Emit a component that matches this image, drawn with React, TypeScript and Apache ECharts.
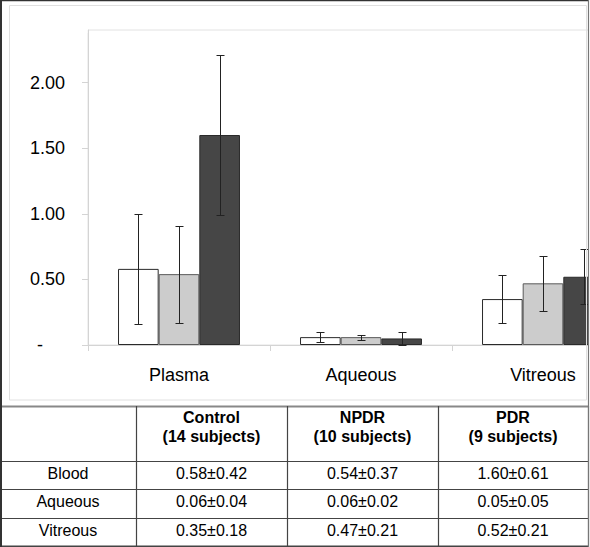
import React, { useEffect, useRef } from "react";
import * as echarts from "echarts";

const categories = ["Plasma", "Aqueous", "Vitreous"];
const groups = ["Control", "NPDR", "PDR"];
const subjects = [14, 10, 9];
const tableRows = ["Blood", "Aqueous", "Vitreous"];
const controlMean = [0.58, 0.06, 0.35];
const controlSd = [0.42, 0.04, 0.18];
const npdrMean = [0.54, 0.06, 0.47];
const npdrSd = [0.37, 0.02, 0.21];
const pdrMean = [1.6, 0.05, 0.52];
const pdrSd = [0.61, 0.05, 0.21];

const means = [controlMean, npdrMean, pdrMean];
const sds = [controlSd, npdrSd, pdrSd];

const FONT = "'Liberation Sans', Arial, sans-serif";
const barColors = ["#ffffff", "#cccccc", "#464646"];
const barBorders = ["#2a2a2a", "#5a5a5a", "#2a2a2a"];
const CAT_GAP = 0.33;

export default function App() {
  const ref = useRef<HTMLDivElement>(null);
  useEffect(() => {
    document.body.style.margin = "0";
    const chart = echarts.init(ref.current!, null, { renderer: "svg" });

    const barSeries = groups.map((g, gi) => ({
      name: g,
      type: "bar",
      data: means[gi],
      barGap: "0%",
      barCategoryGap: (CAT_GAP * 100).toFixed(0) + "%",
      itemStyle: { color: barColors[gi], borderColor: barBorders[gi], borderWidth: 1 },
      z: 2,
    }));

    const errData: number[][] = [];
    groups.forEach((_, gi) => {
      categories.forEach((_, ci) => {
        errData.push([ci, means[gi][ci] - sds[gi][ci], means[gi][ci] + sds[gi][ci], gi]);
      });
    });

    const errSeries = {
      type: "custom",
      data: errData,
      encode: { x: 0, y: [1, 2] },
      z: 5,
      renderItem: (params: any, api: any) => {
        const ci = api.value(0);
        const lo = api.value(1);
        const hi = api.value(2);
        const si = api.value(3);
        const bandW = api.size([1, 0])[0];
        const barW = (bandW * (1 - CAT_GAP)) / 3;
        const cx = Math.round(api.coord([ci, 0])[0] + (si - 1) * barW) + 0.5;
        const yLo = Math.round(api.coord([ci, lo])[1]) + 0.5;
        const yHi = Math.round(api.coord([ci, hi])[1]) + 0.5;
        const style = { stroke: "#222222", lineWidth: 1 };
        return {
          type: "group",
          children: [
            { type: "line", shape: { x1: cx, y1: yLo, x2: cx, y2: yHi }, style },
            { type: "line", shape: { x1: cx - 4, y1: yHi, x2: cx + 4, y2: yHi }, style },
            { type: "line", shape: { x1: cx - 4, y1: yLo, x2: cx + 4, y2: yLo }, style },
          ],
        };
      },
    };

    const colX = [0, 136, 287, 438, 588];
    const rowY = [406, 461, 489, 518, 546];
    const lineColor = "#444444";
    const tableEls: any[] = [];
    rowY.forEach((y, i) => {
      tableEls.push({
        type: "line",
        z: 100,
        shape: { x1: 0, y1: y + 0.5, x2: 589, y2: y + 0.5 },
        style: { stroke: i === 0 ? "#888888" : lineColor, lineWidth: i === 0 || i === rowY.length - 1 ? 2 : 1.2 },
      });
    });
    colX.forEach((x, i) => {
      tableEls.push({
        type: "line",
        z: 100,
        shape: { x1: x + (i === 0 ? 1 : 0.5), y1: rowY[0], x2: x + (i === 0 ? 1 : 0.5), y2: rowY[rowY.length - 1] + 1 },
        style: { stroke: i === colX.length - 1 ? "#777777" : lineColor, lineWidth: i === 0 ? 2 : 1.2 },
      });
    });
    groups.forEach((g, gi) => {
      const cx = (colX[gi + 1] + colX[gi + 2]) / 2;
      tableEls.push({
        type: "text",
        z: 100,
        x: cx,
        y: 417,
        style: { text: g, fill: "#000", font: `bold 16px ${FONT}`, align: "center", verticalAlign: "middle" },
      });
      tableEls.push({
        type: "text",
        z: 100,
        x: cx,
        y: 436,
        style: { text: `(${subjects[gi]} subjects)`, fill: "#000", font: `bold 16px ${FONT}`, align: "center", verticalAlign: "middle" },
      });
    });
    tableRows.forEach((r, ri) => {
      const cy = rowY[ri + 1] + 12;
      tableEls.push({
        type: "text",
        z: 100,
        x: (colX[0] + colX[1]) / 2,
        y: cy,
        style: { text: r, fill: "#000", font: `16px ${FONT}`, align: "center", verticalAlign: "middle" },
      });
      groups.forEach((_, gi) => {
        tableEls.push({
          type: "text",
          z: 100,
          x: (colX[gi + 1] + colX[gi + 2]) / 2,
          y: cy,
          style: {
            text: `${means[gi][ri].toFixed(2)}±${sds[gi][ri].toFixed(2)}`,
            fill: "#000",
            font: `16px ${FONT}`,
            align: "center",
            verticalAlign: "middle",
          },
        });
      });
    });

    const option: any = {
      animation: false,
      backgroundColor: "#ffffff",
      textStyle: { fontFamily: FONT },
      grid: {
        left: 88,
        top: 30,
        width: 546,
        height: 315,
        containLabel: false,
        outerBoundsMode: "none",
        show: true,
        borderColor: "#e2e2e2",
        borderWidth: 1,
        backgroundColor: "transparent",
      },
      xAxis: {
        type: "category",
        data: categories,
        axisLine: { lineStyle: { color: "#d4d4d4", width: 1 } },
        axisTick: { show: true, length: 6, lineStyle: { color: "#d4d4d4" } },
        axisLabel: { fontSize: 18, color: "#000", fontFamily: FONT, margin: 21 },
        splitLine: { show: false },
      },
      yAxis: {
        type: "value",
        min: 0,
        max: 2.4,
        interval: 0.5,
        axisLine: { show: true, lineStyle: { color: "#d4d4d4", width: 1 } },
        axisTick: { show: true, length: 6, lineStyle: { color: "#d4d4d4" } },
        splitLine: { show: false },
        axisLabel: {
          fontSize: 18,
          color: "#000",
          fontFamily: FONT,
          margin: 23,
          showMaxLabel: false,
          formatter: (v: number) => (v === 0 ? "{d|-}" : v.toFixed(2)),
          rich: { d: { fontSize: 18, color: "#000", fontFamily: FONT, padding: [0, 22, 0, 0] } },
        },
      },
      series: [...barSeries, errSeries],
      graphic: [
        { type: "rect", z: 100, shape: { x: 78, y: 27, width: 9.5, height: 6 }, style: { fill: "#ffffff" } },
        { type: "rect", z: 100, shape: { x: 588, y: 0, width: 10, height: 547 }, style: { fill: "#ffffff" } },
        {
          type: "rect",
          z: 100,
          shape: { x: 9.5, y: 5.5, width: 577, height: 394.5 },
          style: { fill: "none", stroke: "#e0e0e0", lineWidth: 1 },
        },
        { type: "line", z: 101, shape: { x1: 0, y1: 0.5, x2: 589, y2: 0.5 }, style: { stroke: "#333333", lineWidth: 1.5 } },
        { type: "line", z: 101, shape: { x1: 1, y1: 0, x2: 1, y2: 547 }, style: { stroke: "#333333", lineWidth: 2 } },
        { type: "line", z: 101, shape: { x1: 588.5, y1: 0, x2: 588.5, y2: 547 }, style: { stroke: "#777777", lineWidth: 1.2 } },
        ...tableEls,
      ],
    };
    chart.setOption(option);
    return () => chart.dispose();
  }, []);
  return <div ref={ref} style={{ position: "absolute", left: 0, top: 0, width: 590, height: 547 }} />;
}
